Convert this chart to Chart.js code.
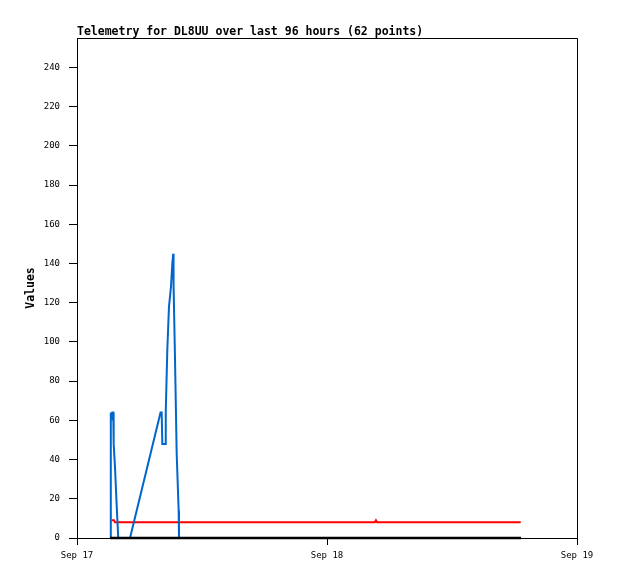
<!DOCTYPE html>
<html><head><meta charset="utf-8">
<script src="https://cdn.jsdelivr.net/npm/chart.js@4.4.0/dist/chart.umd.min.js"></script>
<style>html,body{margin:0;padding:0;background:#fff}canvas{display:block}</style>
</head><body>
<canvas id="c" width="618" height="579"></canvas>
<script>
const chartTitle = 'Telemetry for DL8UU over last 96 hours (62 points)';
const yAxisTitle = 'Values';
const xTickHours = [0, 24, 48];
const xTickLabels = ['Sep 17', 'Sep 18', 'Sep 19'];
const yTickValues = [0, 20, 40, 60, 80, 100, 120, 140, 160, 180, 200, 220, 240];

// hours since Sep 17 00:00
const blueHours = [3.226, 3.245, 3.32, 3.39, 3.485, 3.52, 3.65, 3.77, 3.96, 5.09, 8.02, 8.13, 8.19, 8.45, 8.52, 8.57, 8.67, 8.83, 9.02, 9.15, 9.24, 9.27, 9.41, 9.57, 9.76, 9.79];
const blueValues = [0, 64, 60, 64, 64, 48, 36, 21, 0, 0, 64, 64, 48, 48, 64, 75, 96, 118, 128, 140, 145, 129, 91, 43, 14, 0];

const redHours = [3.3, 3.55, 3.65, 28.6, 28.7, 28.8, 42.6];
const redValues = [9, 9, 8, 8, 9, 8, 8];

const blackHours = [3.17, 42.62];
const blackValues = [0, 0];

const toPts = (xs, ys) => xs.map((h, i) => ({x: h, y: ys[i]}));

const framePlugin = {
  id: 'frame',
  afterDraw(chart) {
    const {ctx, chartArea: a} = chart;
    ctx.save();
    ctx.strokeStyle = '#000';
    ctx.lineWidth = 1;
    ctx.beginPath();
    ctx.moveTo(a.left, a.top + 0.5);
    ctx.lineTo(a.right + 0.5, a.top + 0.5);
    ctx.lineTo(a.right + 0.5, a.bottom);
    ctx.stroke();
    ctx.fillStyle = '#000';
    ctx.font = 'bold 11.5px "DejaVu Sans Mono"';
    ctx.textBaseline = 'alphabetic';
    ctx.textAlign = 'left';
    ctx.fillText(chartTitle, a.left, 35);
    ctx.restore();
  }
};

Chart.defaults.font.family = '"DejaVu Sans Mono"';
Chart.defaults.color = '#000';

new Chart(document.getElementById('c'), {
  type: 'line',
  data: {
    datasets: [
      {data: toPts(blackHours, blackValues), borderColor: '#000000', borderWidth: 2.5, pointRadius: 0, clip: 5},
      {data: toPts(blueHours, blueValues), borderColor: '#0066cc', borderWidth: 2, pointRadius: 0, clip: 5},
      {data: toPts(redHours, redValues), borderColor: '#ff0000', borderWidth: 2, pointRadius: 0, clip: 5}
    ]
  },
  options: {
    responsive: false,
    animation: false,
    devicePixelRatio: 1,
    layout: {padding: {top: 38, right: 41, bottom: 0, left: 0}},
    plugins: {legend: {display: false}, tooltip: {enabled: false}, title: {display: false}},
    elements: {line: {tension: 0}},
    scales: {
      x: {
        type: 'linear', min: 0, max: 48,
        afterBuildTicks: s => { s.ticks = xTickHours.map(v => ({value: v})); },
        afterFit: s => { s.height = 41; },
        ticks: {callback: v => xTickLabels[xTickHours.indexOf(v)], font: {size: 9}, color: '#000', padding: 5, maxRotation: 0, autoSkip: false},
        grid: {drawOnChartArea: false, drawTicks: true, tickLength: 7, color: '#000'},
        border: {color: '#000', width: 1}
      },
      y: {
        type: 'linear', min: 0, max: 255,
        afterBuildTicks: s => { s.ticks = yTickValues.map(v => ({value: v})); },
        afterFit: s => { s.width = 77; },
        ticks: {font: {size: 9}, color: '#000', padding: 9},
        grid: {drawOnChartArea: false, drawTicks: true, tickLength: 8, color: '#000'},
        border: {color: '#000', width: 1},
        title: {display: true, text: yAxisTitle, font: {size: 11.5, weight: 'bold'}, color: '#000', padding: {top: 24, bottom: 0}}
      }
    }
  },
  plugins: [framePlugin]
});
</script>
</body></html>
